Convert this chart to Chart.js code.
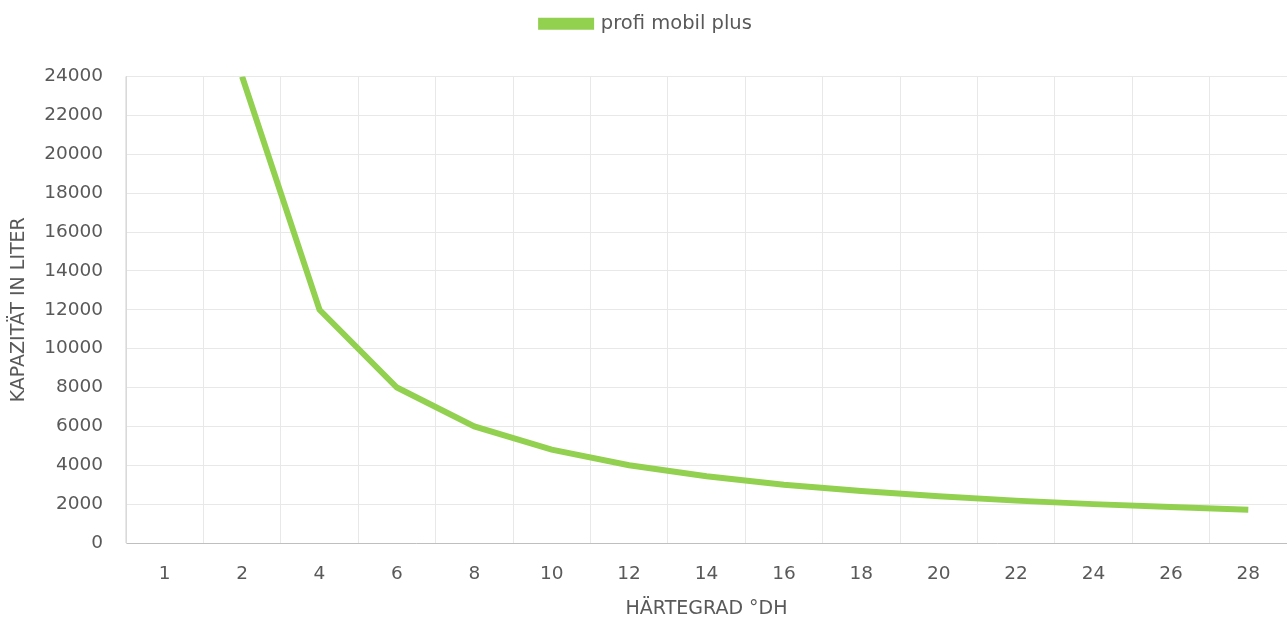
<!DOCTYPE html>
<html>
<head>
<meta charset="utf-8">
<script src="https://cdn.jsdelivr.net/npm/chart.js@4/dist/chart.umd.min.js"></script>
<style>
html,body{margin:0;padding:0;background:#fff;}
#wrap{width:1287px;height:620px;position:relative;}
</style>
</head>
<body>
<div id="wrap"><canvas id="c"></canvas></div>
<script>
const categories = ['1','2','4','6','8','10','12','14','16','18','20','22','24','26','28'];
const seriesName = 'profi mobil plus';
const capacity = [null,24000,12000,8000,6000,4800,4000,3430,3000,2670,2400,2180,2000,1850,1710];
const yTicks = [0,2000,4000,6000,8000,10000,12000,14000,16000,18000,20000,22000,24000];

const green = '#92D050';
const textColor = '#595959';
const fam = "'DejaVu Sans', 'Open Sans', sans-serif";
const tickFont = {family: fam, size: 18.5};
const titleFont = {family: fam, size: 19};
const legendFont = {family: fam, size: 19.5};

const legendSpacer = {
  id: 'legendSpacer',
  beforeLayout(chart) {
    const lg = chart.legend;
    if (lg && !lg._spacerPatched) {
      const origFit = lg.fit;
      lg.fit = function() {
        origFit.call(this);
        this.height += 33;
      };
      lg._spacerPatched = true;
    }
  }
};

new Chart(document.getElementById('c'), {
  type: 'line',
  data: {
    labels: categories,
    datasets: [{
      label: seriesName,
      data: capacity,
      borderColor: green,
      backgroundColor: green,
      borderWidth: 6,
      pointRadius: 0,
      tension: 0,
      spanGaps: false
    }]
  },
  plugins: [legendSpacer],
  options: {
    responsive: true,
    maintainAspectRatio: false,
    animation: false,
    layout: {padding: {top: 1, right: 0, bottom: 0, left: 6}},
    plugins: {
      legend: {
        position: 'top',
        labels: {
          color: textColor,
          font: legendFont,
          boxWidth: 50,
          boxHeight: 6,
          padding: 13
        }
      },
      tooltip: {enabled: false}
    },
    scales: {
      x: {
        offset: true,
        grid: {offset: true, color: '#e8e8e8', lineWidth: 1, drawTicks: false},
        border: {color: '#bfbfbf'},
        afterFit: (scale) => { scale.height = 77; },
        ticks: {color: textColor, font: tickFont, padding: 20, maxRotation: 0},
        title: {display: true, text: 'HÄRTEGRAD °DH', color: textColor, font: titleFont, padding: {top: 10, bottom: 0}}
      },
      y: {
        min: 0,
        max: 24000,
        afterBuildTicks: (axis) => { axis.ticks = yTicks.map(v => ({value: v})); },
        afterFit: (scale) => { scale.width = 120; },
        grid: {color: '#e8e8e8', lineWidth: 1, drawTicks: false},
        border: {color: '#d9d9d9'},
        ticks: {color: textColor, font: tickFont, padding: 23, callback: (v) => String(v)},
        title: {display: true, text: 'KAPAZITÄT IN LITER', color: textColor, font: titleFont, padding: {top: 2, bottom: 15}}
      }
    }
  }
});
</script>
</body>
</html>
